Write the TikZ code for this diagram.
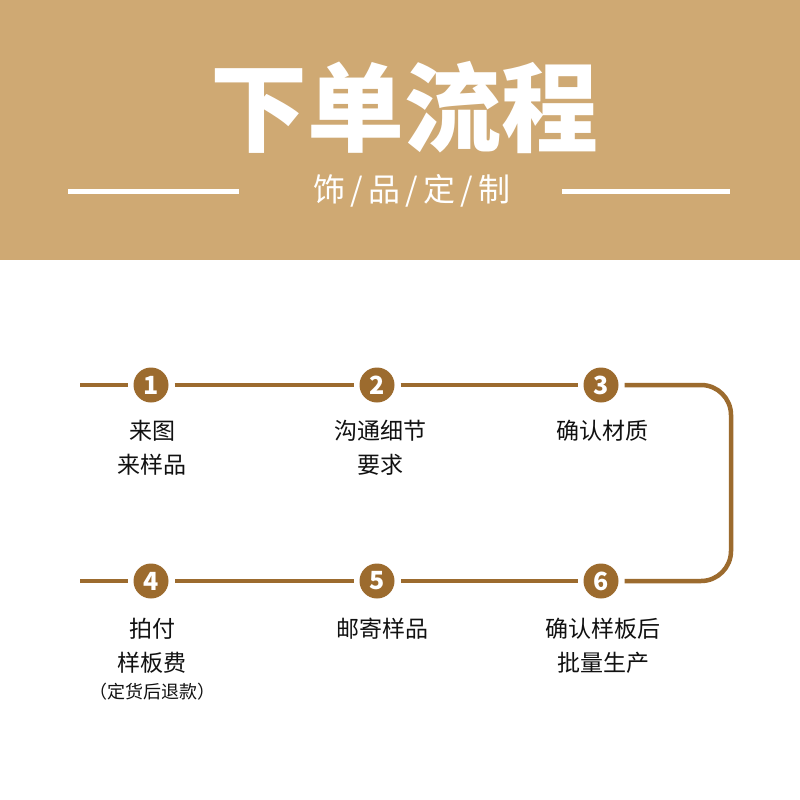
\documentclass[tikz,border=0pt]{standalone}
\usepackage{fontspec}
\newfontfamily\cjk{Noto Sans CJK SC}
\definecolor{band}{HTML}{CFA973}
\definecolor{brownline}{HTML}{9C6B2E}
\definecolor{ink}{HTML}{111111}
\tikzset{
  flow/.style={draw=brownline, line width=4.5pt},
  num/.style={circle, fill=brownline, minimum size=35pt, inner sep=0pt, outer sep=6pt, text=white, font=\cjk\bfseries\fontsize{25}{25}\selectfont},
  lbl/.style={text=ink, align=center, inner sep=0pt, font=\cjk\fontsize{23}{34}\selectfont},
  small/.style={text=ink, align=center, inner sep=0pt, font=\cjk\fontsize{18}{20}\selectfont},
  subline/.style={draw=white, line width=5pt}
}
\begin{document}
\begin{tikzpicture}[x=1pt, y=-1pt]
\useasboundingbox (0,0) rectangle (800,800);
\fill[white] (0,0) rectangle (800,800);
\fill[band] (0,0) rectangle (800,260);
% header
\node[text=white, inner sep=0pt, font=\cjk\bfseries\fontsize{97}{97}\selectfont] (title) at (404,107) {下单流程};
\node[text=white, inner sep=0pt, font=\cjk\fontsize{32}{32}\selectfont] (sub) at (412,191) {饰\,/\,品\,/\,定\,/\,制};
\coordinate (la) at (68,191); \coordinate (lb) at (239,191);
\coordinate (ra) at (562,191); \coordinate (rb) at (730,191);
\draw[subline] (la) -- (lb);
\draw[subline] (ra) -- (rb);
% flow
\node[num] (n1) at (151,385) {1};
\node[num] (n2) at (377,385) {2};
\node[num] (n3) at (601,385) {3};
\node[num] (n4) at (151,581) {4};
\node[num] (n5) at (377,581) {5};
\node[num] (n6) at (601,581) {6};
\coordinate (s1) at (80,385);
\coordinate (s4) at (80,581);
\coordinate (tr) at (731,385);
\coordinate (br) at (731,581);
\draw[flow] (s1) -- (n1);
\draw[flow] (n1) -- (n2);
\draw[flow] (n2) -- (n3);
\draw[flow, rounded corners=30pt] (n3) -- (tr) -- (br) -- (n6);
\draw[flow] (n6) -- (n5);
\draw[flow] (n5) -- (n4);
\draw[flow] (n4) -- (s4);
% labels
\node[lbl] (t1) at (152,448) {来图\\来样品};
\node[lbl] (t2) at (380,448) {沟通细节\\要求};
\node[lbl] (t3) at (602,431) {确认材质};
\node[lbl] (t4) at (152,646) {拍付\\样板费};
\node[small] (t4b) at (152,692) {（定货后退款）};
\node[lbl] (t5) at (382,629) {邮寄样品};
\node[lbl] (t6) at (603,646) {确认样板后\\批量生产};
\end{tikzpicture}
\end{document}
